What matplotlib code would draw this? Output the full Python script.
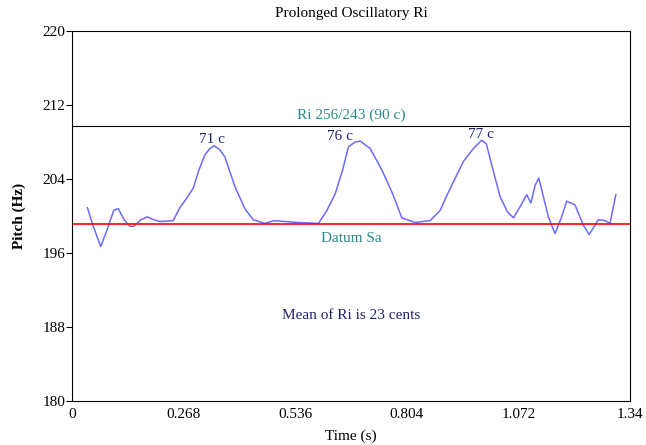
import numpy as np
import matplotlib
matplotlib.use("Agg")
import matplotlib.pyplot as plt

# pitch trace
time_s = [0.037, 0.050, 0.069, 0.085, 0.100, 0.111, 0.125, 0.138, 0.149, 0.165, 0.181,
          0.196, 0.211, 0.243, 0.259, 0.275, 0.291, 0.305, 0.319, 0.331, 0.341, 0.354,
          0.367, 0.391, 0.415, 0.435, 0.463, 0.485, 0.540, 0.592, 0.612, 0.632, 0.650,
          0.664, 0.680, 0.692, 0.716, 0.744, 0.770, 0.792, 0.824, 0.860, 0.884, 0.900,
          0.916, 0.940, 0.964, 0.984, 0.995, 1.008, 1.028, 1.045, 1.060, 1.076, 1.092,
          1.102, 1.112, 1.121, 1.144, 1.160, 1.175, 1.188, 1.208, 1.228, 1.242, 1.264,
          1.280, 1.292, 1.306]
pitch_hz = [200.9, 199.0, 196.7, 198.6, 200.6, 200.8, 199.6, 198.9, 198.9, 199.6, 199.9,
            199.6, 199.4, 199.5, 200.9, 201.9, 203.0, 205.0, 206.6, 207.3, 207.6, 207.2,
            206.4, 203.2, 200.8, 199.6, 199.2, 199.5, 199.3, 199.2, 200.6, 202.4, 205.0,
            207.5, 208.0, 208.1, 207.3, 205.0, 202.4, 199.8, 199.3, 199.5, 200.6, 202.2,
            203.7, 205.9, 207.3, 208.2, 207.8, 205.5, 202.1, 200.5, 199.8, 201.0, 202.3,
            201.4, 203.3, 204.1, 199.9, 198.1, 199.8, 201.6, 201.2, 199.0, 198.0, 199.6,
            199.5, 199.2, 202.3]

sa_hz = 199.1
ri_hz = sa_hz * 256 / 243
peak_t = [0.336, 0.644, 0.982]
peak_y = [208.3, 208.55, 208.85]
peak_labels = ["71 c", "76 c", "77 c"]

plt.rcParams['font.family'] = ['Liberation Serif', 'DejaVu Serif']
fig = plt.figure(figsize=(6.46, 4.45), dpi=100)
ax = fig.add_axes([0.1115, 0.0989, 0.8637, 0.8314])

ax.plot(time_s, pitch_hz, color='#6b6bff', lw=1.1)
ax.axhline(sa_hz, color='red', lw=1.2)
ax.axhline(ri_hz, color='black', lw=0.8)

teal = '#2a8a84'
navy = '#22226e'
ax.text(0.67, ri_hz + 0.4, "Ri 256/243 (90 c)", color=teal, ha='center', va='bottom', fontsize=11)
ax.text(0.67, sa_hz - 0.8, "Datum Sa", color=teal, ha='center', va='top', fontsize=11)
ax.text(0.67, 189.2, "Mean of Ri is 23 cents", color=navy, ha='center', va='center', fontsize=11)
for t, y, lab in zip(peak_t, peak_y, peak_labels):
    ax.text(t, y, lab, color=navy, ha='center', va='center', fontsize=11)

ax.set_xlim(0, 1.34)
ax.set_ylim(180, 220)
ax.set_xticks([0, 0.268, 0.536, 0.804, 1.072, 1.34])
ax.set_xticklabels(["0", "0.268", "0.536", "0.804", "1.072", "1.34"])
ax.set_yticks([180, 188, 196, 204, 212, 220])
ax.tick_params(axis='x', length=0, pad=5, labelsize=11)
ax.tick_params(axis='y', length=4, pad=1, labelsize=11)
ax.set_xlabel("Time (s)", fontsize=11, labelpad=6)
ax.set_ylabel("Pitch (Hz)", fontsize=11, fontweight='bold', labelpad=12)
ax.set_title("Prolonged Oscillatory Ri", fontsize=11, pad=10)

fig.savefig("out.png", dpi=100)
